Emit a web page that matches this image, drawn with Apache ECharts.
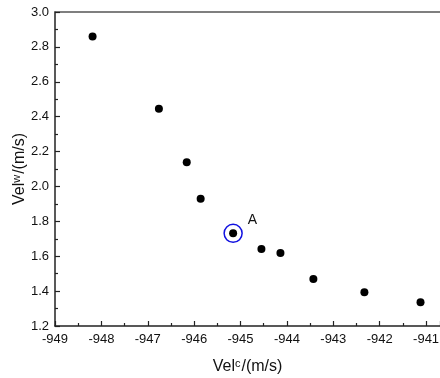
<!DOCTYPE html>
<html>
<head>
<meta charset="utf-8">
<script src="https://cdn.jsdelivr.net/npm/echarts@6/dist/echarts.min.js"></script>
<style>html,body{margin:0;padding:0;background:#fff;}#c{width:440px;height:378px;}</style>
</head>
<body>
<div id="c"></div>
<script>
var velC = [-948.19, -946.76, -946.16, -945.86, -945.16, -944.55, -944.14, -943.43, -942.33, -941.12];
var velW = [2.86, 2.446, 2.138, 1.929, 1.731, 1.642, 1.619, 1.470, 1.393, 1.336];
var highlightIndex = 4;
var highlightLabel = 'A';

var pts = velC.map(function (x, i) { return [x, velW[i]]; });
var chart = echarts.init(document.getElementById('c'), null, {renderer: 'canvas'});
var font = 'Liberation Sans, Arial, sans-serif';
var txt = '#111';
var nameRich = {
  a: {fontSize: 16, fontFamily: font, color: txt},
  s: {fontSize: 11, fontFamily: font, color: txt, verticalAlign: 'top', padding: [0, 1, 7, 0]}
};
chart.setOption({
  animation: false,
  backgroundColor: '#fff',
  grid: {left: 55, top: 12, right: 0, bottom: 52, containLabel: false, outerBoundsMode: 'none'},
  xAxis: [{
    type: 'value', min: -949, max: -940.7, interval: 1,
    axisLine: {show: true, lineStyle: {color: '#222', width: 1.5}},
    axisTick: {show: true, inside: true, length: 5, lineStyle: {color: '#222', width: 1.2}},
    minorTick: {show: true, splitNumber: 2, length: 3, lineStyle: {color: '#222', width: 1.2}},
    splitLine: {show: false},
    axisLabel: {color: txt, fontSize: 13, fontFamily: font, margin: 7, showMaxLabel: true,
      formatter: function (v) { return Number.isInteger(v) ? String(v) : ''; }},
    name: '{a|Vel}{s|c}{a|/(m/s)}', nameLocation: 'middle', nameGap: 32, nameMoveOverlap: false,
    nameTextStyle: {rich: nameRich}
  }, {
    type: 'value', position: 'top', min: -949, max: -940.7,
    axisLine: {show: true, onZero: false, lineStyle: {color: '#555', width: 1.5}},
    axisTick: {show: false}, axisLabel: {show: false}, splitLine: {show: false}
  }],
  yAxis: {
    type: 'value', min: 1.2, max: 3.0, interval: 0.2,
    axisLine: {show: true, lineStyle: {color: '#222', width: 1.5}},
    axisTick: {show: true, inside: true, length: 5, lineStyle: {color: '#222', width: 1.2}},
    minorTick: {show: true, splitNumber: 2, length: 3, lineStyle: {color: '#222', width: 1.2}},
    splitLine: {show: false},
    axisLabel: {color: txt, fontSize: 13, fontFamily: font, margin: 6,
      formatter: function (v) { return v.toFixed(1); }},
    name: '{a|Vel}{s|w}{a|/(m/s)}', nameLocation: 'middle', nameGap: 26, nameMoveOverlap: false,
    nameTextStyle: {rich: nameRich}
  },
  series: [{
    type: 'scatter', xAxisIndex: 0, data: pts, symbol: 'circle', symbolSize: 8,
    itemStyle: {color: '#000', opacity: 1}
  }, {
    type: 'scatter', xAxisIndex: 0, data: [pts[highlightIndex]], symbol: 'circle', symbolSize: 18,
    itemStyle: {color: 'rgba(0,0,0,0)', borderColor: '#1010e0', borderWidth: 1.5, opacity: 1},
    label: {show: true, formatter: highlightLabel, position: 'right', distance: 5, offset: [0, -13],
      fontSize: 14, fontFamily: font, color: txt},
    z: 3
  }]
});
</script>
</body>
</html>
